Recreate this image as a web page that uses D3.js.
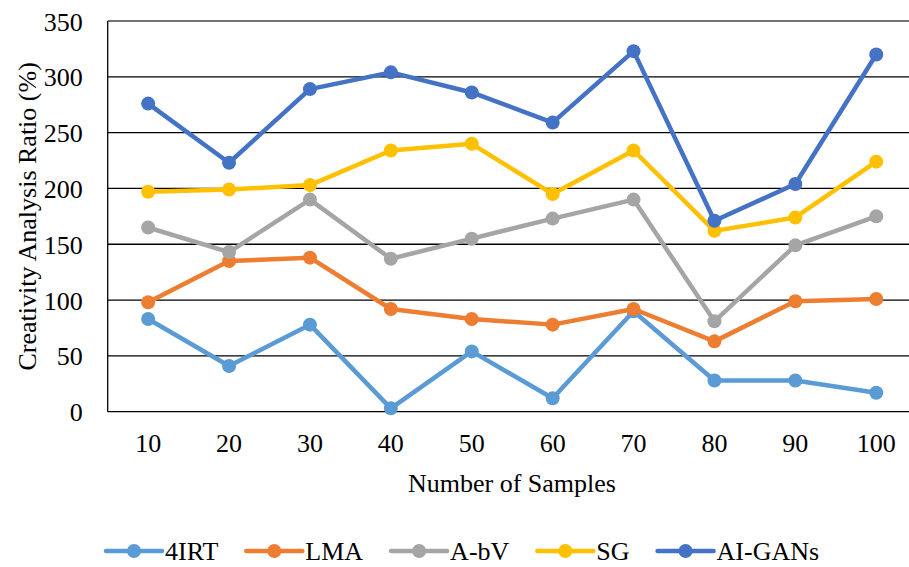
<!DOCTYPE html>
<html>
<head>
<meta charset="utf-8">
<script src="https://cdn.jsdelivr.net/npm/d3@7"></script>
<style>
  html, body { margin: 0; padding: 0; background: #fff; }
  svg { display: block; }
</style>
</head>
<body>
<svg id="chart" width="909" height="567"></svg>
<script>
// Sample sizes on the x axis
const categories = ["10", "20", "30", "40", "50", "60", "70", "80", "90", "100"];

// Creativity analysis ratio (%) for each method
const irt4   = [83, 41, 78, 3, 54, 12, 90, 28, 28, 17];
const lma    = [98, 135, 138, 92, 83, 78, 92, 63, 99, 101];
const abv    = [165, 143, 190, 137, 155, 173, 190, 81, 149, 175];
const sg     = [197, 199, 203, 234, 240, 195, 234, 162, 174, 224];
const aigans = [276, 223, 289, 304, 286, 259, 323, 171, 204, 320];

const seriesNames = ["4IRT", "LMA", "A-bV", "SG", "AI-GANs"];
const yTicks = [0, 50, 100, 150, 200, 250, 300, 350];

const FONT = "'Liberation Serif', 'Times New Roman', 'DejaVu Serif', serif";
const FS = 26;
const colors = ["#5B9BD5", "#ED7D31", "#A5A5A5", "#FFC000", "#4472C4"];
const series = [irt4, lma, abv, sg, aigans].map((values, i) => ({
  name: seriesNames[i], values, color: colors[i]
}));

const svg = d3.select("#chart").attr("font-family", FONT);
const plot = { left: 107.7, right: 916.7, top: 21, bottom: 411.7 };

const x = d3.scaleBand().domain(categories).range([plot.left, plot.right]);
const y = d3.scaleLinear().domain([0, 350]).range([plot.bottom, plot.top]);

// Horizontal gridlines
svg.append("g")
  .selectAll("line")
  .data(yTicks)
  .join("line")
  .attr("x1", plot.left).attr("x2", plot.right)
  .attr("y1", d => y(d)).attr("y2", d => y(d))
  .attr("stroke", d => d === 350 ? "#444" : "#000")
  .attr("stroke-width", 1.3);

// Vertical axis line
svg.append("line")
  .attr("x1", plot.left).attr("x2", plot.left)
  .attr("y1", y(350)).attr("y2", y(0))
  .attr("stroke", "#000").attr("stroke-width", 1.3);

// Y axis labels
const yAxis = d3.axisLeft(y).tickValues(yTicks).tickSize(0).tickPadding(25);
const gy = svg.append("g").attr("transform", `translate(${plot.left},0)`).call(yAxis);
gy.attr("font-family", FONT).attr("font-size", FS);
gy.select(".domain").remove();
gy.selectAll("text").attr("dy", "0.35em").attr("fill", "#000");

// X axis labels
const xAxis = d3.axisBottom(x).tickSize(0).tickPadding(22);
const gx = svg.append("g").attr("transform", `translate(0,${plot.bottom})`).call(xAxis);
gx.attr("font-family", FONT).attr("font-size", FS);
gx.select(".domain").remove();
gx.selectAll("text").attr("fill", "#000");

// Axis titles
svg.append("text")
  .attr("x", 512).attr("y", 492)
  .attr("text-anchor", "middle")
  .attr("font-size", FS)
  .text("Number of Samples");

svg.append("text")
  .attr("transform", `translate(36,${(plot.top + plot.bottom) / 2}) rotate(-90)`)
  .attr("text-anchor", "middle")
  .attr("font-size", FS)
  .text("Creativity Analysis Ratio (%)");

// Lines and markers
const line = d3.line()
  .x((d, i) => x(categories[i]) + x.bandwidth() / 2)
  .y(d => y(d));

const sGroups = svg.append("g").selectAll("g").data(series).join("g");
sGroups.append("path")
  .attr("d", d => line(d.values))
  .attr("fill", "none")
  .attr("stroke", d => d.color)
  .attr("stroke-width", 4.5)
  .attr("stroke-linejoin", "round");
sGroups.each(function (s) {
  d3.select(this).selectAll("circle")
    .data(s.values)
    .join("circle")
    .attr("cx", (d, i) => x(categories[i]) + x.bandwidth() / 2)
    .attr("cy", d => y(d))
    .attr("r", 7)
    .attr("fill", s.color);
});

// Legend: items laid out left to right from measured text widths
const legend = svg.append("g").attr("transform", "translate(0,551)");
let lx = 106;
series.forEach(s => {
  const g = legend.append("g").attr("transform", `translate(${lx},0)`);
  g.append("line")
    .attr("x1", 0).attr("x2", 56)
    .attr("stroke", s.color).attr("stroke-width", 4.5)
    .attr("stroke-linecap", "round");
  g.append("circle").attr("cx", 28).attr("r", 7).attr("fill", s.color);
  const t = g.append("text")
    .attr("x", 59).attr("dy", "0.35em")
    .attr("font-size", FS)
    .text(s.name);
  lx += 59 + t.node().getComputedTextLength() + 28;
});
</script>
</body>
</html>
